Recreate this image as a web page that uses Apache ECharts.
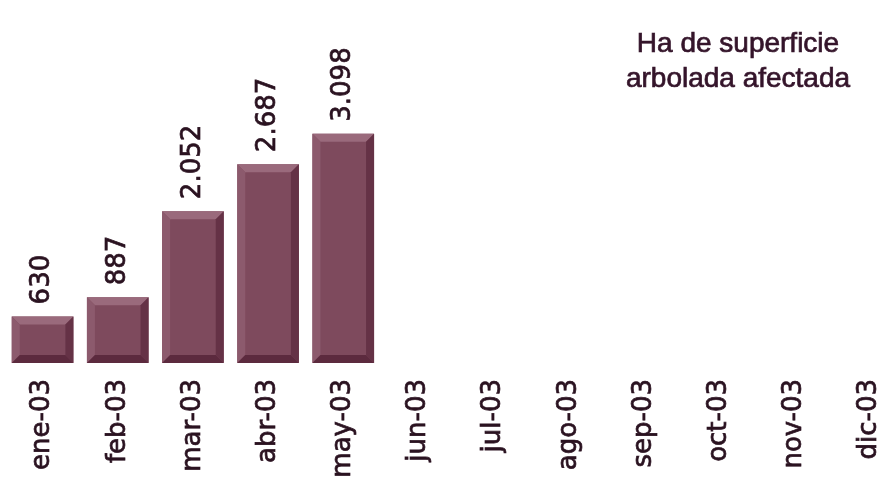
<!DOCTYPE html>
<html>
<head>
<meta charset="utf-8">
<script src="https://cdn.jsdelivr.net/npm/echarts@6/dist/echarts.min.js"></script>
<style>
html,body{margin:0;padding:0;background:#ffffff;}
#c{width:889px;height:483px;}
</style>
</head>
<body>
<div id="c"></div>
<script>
const months = ['ene-03','feb-03','mar-03','abr-03','may-03','jun-03','jul-03','ago-03','sep-03','oct-03','nov-03','dic-03'];
const hectares = [630, 887, 2052, 2687, 3098];
const titleLines = ['Ha de superficie', 'arbolada afectada'];

function fmt(v) {
  return String(v).replace(/\B(?=(\d{3})+(?!\d))/g, '.');
}

const chart = echarts.init(document.getElementById('c'));
const bevel = 8;
const textColor = '#2a1220';

chart.setOption({
  backgroundColor: '#ffffff',
  animation: false,
  title: {
    text: titleLines.join('\n'),
    left: 733,
    top: 22,
    textAlign: 'center',
    textStyle: {
      fontFamily: 'Liberation Sans, Arial, sans-serif',
      fontSize: 28,
      fontWeight: 'normal',
      color: '#34142a',
      lineHeight: 35,
      textBorderColor: '#34142a',
      textBorderWidth: 0.7
    }
  },
  grid: { left: 5, width: 902, top: 67, height: 296, outerBoundsMode: 'none', containLabel: false },
  xAxis: {
    type: 'category',
    data: months,
    axisLine: { show: false },
    axisTick: { show: false },
    axisLabel: {
      interval: 0,
      rotate: 90,
      margin: 16,
      fontFamily: 'DejaVu Sans, sans-serif',
      fontSize: 26,
      color: textColor,
      textBorderColor: textColor,
      textBorderWidth: 0.7
    }
  },
  yAxis: {
    type: 'value',
    min: 0,
    max: 4000,
    show: false,
    splitLine: { show: false }
  },
  series: [{
    type: 'custom',
    data: hectares.map((v, i) => [i, v]),
    encode: { x: 0, y: 1 },
    renderItem: function (params, api) {
      const idx = api.value(0);
      const val = api.value(1);
      const top = api.coord([idx, val]);
      const base = api.coord([idx, 0]);
      const band = api.size([1, 0])[0];
      const w = band * 0.82;
      const x0 = top[0] - w / 2, x1 = top[0] + w / 2;
      const y0 = top[1], y1 = base[1];
      const b = bevel;
      return {
        type: 'group',
        children: [
          { type: 'rect', shape: { x: x0, y: y0, width: w, height: y1 - y0 },
            style: { fill: '#7e4a5d' } },
          { type: 'polygon', shape: { points: [[x0, y0], [x1, y0], [x1 - b, y0 + b], [x0 + b, y0 + b]] },
            style: { fill: '#9a6a7c' } },
          { type: 'polygon', shape: { points: [[x0, y0], [x0 + b, y0 + b], [x0 + b, y1 - b], [x0, y1]] },
            style: { fill: '#8c5a6d' } },
          { type: 'polygon', shape: { points: [[x1, y0], [x1, y1], [x1 - b, y1 - b], [x1 - b, y0 + b]] },
            style: { fill: '#653246' } },
          { type: 'polygon', shape: { points: [[x0, y1], [x1, y1], [x1 - b, y1 - b], [x0 + b, y1 - b]] },
            style: { fill: '#5c2a3e' } },
          { type: 'text', x: top[0], y: y0 - 12, rotation: Math.PI / 2,
            style: { text: fmt(val), fontFamily: 'DejaVu Sans, sans-serif', fontSize: 26,
              fill: textColor, stroke: textColor, lineWidth: 0.7,
              align: 'left', verticalAlign: 'middle' } }
        ]
      };
    }
  }]
});
</script>
</body>
</html>
